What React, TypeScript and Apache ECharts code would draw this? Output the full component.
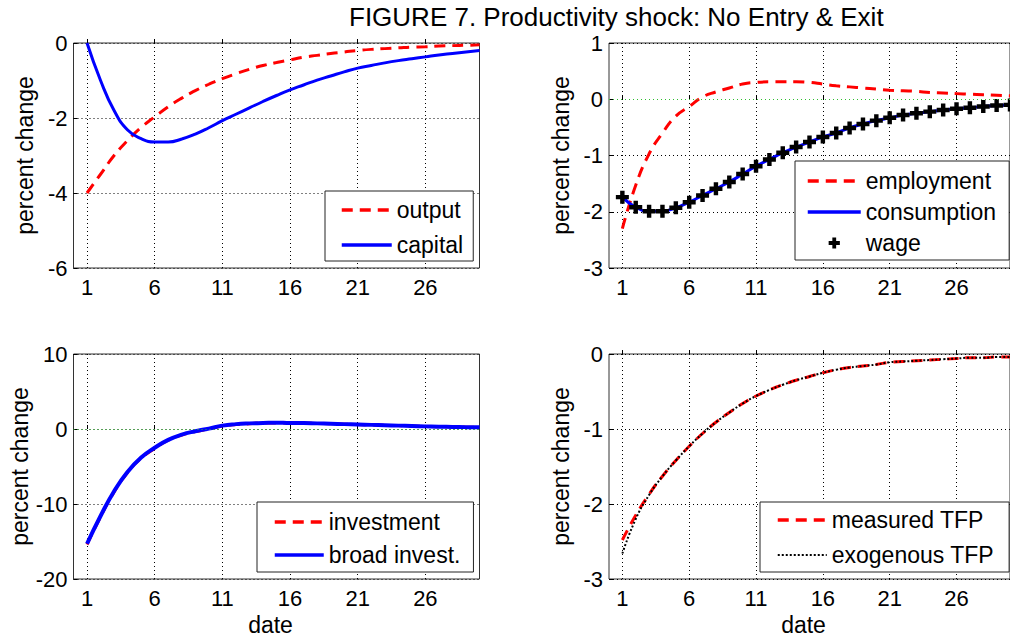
import React, { useEffect, useRef } from "react";
import * as echarts from "echarts";

const FONT = '"Liberation Sans", Arial, Helvetica, sans-serif';

const dates = [1, 2, 3, 4, 5, 6, 7, 8, 9, 10, 11, 12, 13, 14, 15, 16, 17, 18, 19, 20, 21, 22, 23, 24, 25, 26, 27, 28, 29, 30];
const xCategories = ["0", ...dates.map(String)];
const xTickLabels = ["1", "6", "11", "16", "21", "26"];

const title = "FIGURE 7. Productivity shock: No Entry & Exit";
const yName = "percent change";
const xName = "date";

// panel 1
const output = [-4.0, -3.5, -3.0, -2.6, -2.25, -1.97, -1.7, -1.47, -1.27, -1.1, -0.95, -0.82, -0.7, -0.6, -0.52, -0.45, -0.38, -0.33, -0.28, -0.24, -0.2, -0.17, -0.15, -0.13, -0.11, -0.1, -0.08, -0.07, -0.06, -0.05];
const capital = [0, -1.0, -1.8, -2.32, -2.55, -2.64, -2.64, -2.56, -2.43, -2.26, -2.07, -1.9, -1.73, -1.56, -1.4, -1.25, -1.12, -0.99, -0.88, -0.77, -0.67, -0.6, -0.53, -0.47, -0.42, -0.37, -0.32, -0.28, -0.24, -0.2];
const yTicks1 = [-6, -4, -2, 0];

// panel 2
const employment = [-2.3, -1.53, -0.97, -0.6, -0.3, -0.13, 0.04, 0.13, 0.2, 0.27, 0.3, 0.31, 0.31, 0.31, 0.3, 0.27, 0.24, 0.22, 0.2, 0.18, 0.16, 0.15, 0.14, 0.12, 0.11, 0.1, 0.09, 0.08, 0.07, 0.06];
const consumption = [-1.74, -1.92, -1.99, -1.99, -1.93, -1.83, -1.71, -1.59, -1.47, -1.33, -1.19, -1.07, -0.95, -0.85, -0.76, -0.67, -0.6, -0.51, -0.44, -0.38, -0.33, -0.28, -0.25, -0.22, -0.19, -0.17, -0.15, -0.13, -0.11, -0.1];
const wage = [-1.74, -1.92, -1.99, -1.99, -1.93, -1.83, -1.71, -1.59, -1.47, -1.33, -1.19, -1.07, -0.95, -0.85, -0.76, -0.67, -0.6, -0.51, -0.44, -0.38, -0.33, -0.28, -0.25, -0.22, -0.19, -0.17, -0.15, -0.13, -0.11, -0.1];
const yTicks2 = [-3, -2, -1, 0, 1];

// panel 3
const investment = [-15.4, -11.7, -8.4, -5.8, -3.9, -2.6, -1.5, -0.8, -0.35, 0.0, 0.4, 0.6, 0.7, 0.8, 0.8, 0.8, 0.8, 0.75, 0.7, 0.65, 0.6, 0.55, 0.5, 0.45, 0.4, 0.35, 0.3, 0.3, 0.25, 0.2];
const broadInvest = [-15.3, -11.6, -8.3, -5.7, -3.8, -2.5, -1.45, -0.75, -0.3, 0.05, 0.45, 0.65, 0.75, 0.8, 0.85, 0.8, 0.8, 0.75, 0.7, 0.65, 0.6, 0.55, 0.5, 0.45, 0.4, 0.35, 0.3, 0.28, 0.25, 0.22];
const yTicks3 = [-20, -10, 0, 10];

// panel 4
const measuredTFP = [-2.48, -2.15, -1.87, -1.63, -1.42, -1.23, -1.06, -0.91, -0.78, -0.66, -0.56, -0.48, -0.41, -0.35, -0.3, -0.25, -0.21, -0.18, -0.16, -0.14, -0.11, -0.1, -0.09, -0.08, -0.07, -0.06, -0.05, -0.05, -0.04, -0.04];
const exogenousTFP = [-2.66, -2.2, -1.88, -1.63, -1.42, -1.23, -1.06, -0.91, -0.78, -0.66, -0.56, -0.48, -0.41, -0.35, -0.3, -0.25, -0.21, -0.18, -0.16, -0.14, -0.11, -0.1, -0.09, -0.08, -0.07, -0.06, -0.05, -0.05, -0.04, -0.04];
const yTicks4 = [-3, -2, -1, 0];

const RED = "#ff0000";
const BLUE = "#0000ff";
const DASH = [11, 7];
const DOT = [1, 3];
const PLUS = "path://M3.3,0H6.7V3.3H10V6.7H6.7V10H3.3V6.7H0V3.3H3.3Z";

const pts = (vals: number[]) => dates.map((d, i) => [d, vals[i]]);
const isTick = (idx: number) => xTickLabels.includes(xCategories[idx]);

function makeX(gridIndex: number, withName: boolean) {
  return {
    type: "category",
    gridIndex,
    data: xCategories,
    boundaryGap: false,
    axisLine: { show: false },
    axisTick: { show: true, inside: true, length: 4, interval: (i: number) => isTick(i), lineStyle: { color: "#000" } },
    axisLabel: { interval: (i: number) => isTick(i), fontSize: 22, color: "#000", fontFamily: FONT, margin: 8 },
    splitLine: { show: true, interval: (i: number) => isTick(i), lineStyle: { color: "#000", type: DOT, width: 1 } },
    name: withName ? xName : "",
    nameLocation: "middle",
    nameGap: 34,
    nameTextStyle: { fontSize: 23, color: "#000", fontFamily: FONT, padding: [0, 12, 0, 0] },
  };
}

function makeY(gridIndex: number, ticks: number[]) {
  return {
    type: "value",
    gridIndex,
    min: ticks[0],
    max: ticks[ticks.length - 1],
    interval: ticks[1] - ticks[0],
    axisLine: { show: false },
    axisTick: { show: true, inside: true, length: 4, lineStyle: { color: "#000" } },
    axisLabel: { fontSize: 22, color: "#000", fontFamily: FONT, margin: 6 },
    splitLine: { show: true, lineStyle: { color: "#000", type: DOT, width: 1 } },
    name: yName,
    nameLocation: "middle",
    nameGap: 37,
    nameTextStyle: { fontSize: 23, color: "#000", fontFamily: FONT },
  };
}

type LegendItem = { name: string; symbol?: boolean; lineWidth?: number };

function makeLegend(items: LegendItem[], left: number, top: number, padding: number[], itemGap: number, itemWidth: number) {
  return {
    data: items.map((it) => ({
      name: it.name,
      itemStyle: { opacity: it.symbol ? 1 : 0 },
      lineStyle: it.symbol ? { width: 0, opacity: 0 } : { width: it.lineWidth ?? 3.5 },
    })),
    orient: "vertical",
    left,
    top,
    padding,
    itemGap,
    itemWidth,
    itemHeight: 14,
    selectedMode: false,
    backgroundColor: "#fff",
    borderColor: "#222",
    borderWidth: 1,
    itemStyle: { opacity: 0 },
    textStyle: { fontSize: 23, color: "#000", fontFamily: FONT, lineHeight: 26 },
  };
}

const zeroLine = {
  silent: true,
  symbol: "none",
  label: { show: false },
  lineStyle: { color: "#2fbf2f", type: DOT, width: 1 },
  data: [{ yAxis: 0 }],
};

export default function App() {
  const ref = useRef<HTMLDivElement>(null);
  useEffect(() => {
    if (!ref.current) return;
    const chart = echarts.init(ref.current, undefined, { renderer: "svg" });
    const gridBase = { show: true, borderColor: "#333", borderWidth: 1, backgroundColor: "#fff", width: 406, height: 225 };
    const option = {
      animation: false,
      backgroundColor: "#fff",
      textStyle: { fontFamily: FONT },
      title: {
        text: title,
        left: 349,
        top: 3,
        padding: 0,
        textStyle: { fontSize: 26, lineHeight: 28, fontWeight: "normal", color: "#000", fontFamily: FONT },
      },
      grid: [
        { ...gridBase, left: 73.5, top: 43 },
        { ...gridBase, left: 609, top: 43 },
        { ...gridBase, left: 73.5, top: 354 },
        { ...gridBase, left: 609, top: 354 },
      ],
      xAxis: [makeX(0, false), makeX(1, false), makeX(2, true), makeX(3, true)],
      yAxis: [makeY(0, yTicks1), makeY(1, yTicks2), makeY(2, yTicks3), makeY(3, yTicks4)],
      legend: [
        makeLegend([{ name: "output" }, { name: "capital" }], 325, 191, [6, 10, 3, 15], 9, 50),
        makeLegend([{ name: "employment" }, { name: "consumption" }, { name: "wage", symbol: true }], 795, 161, [7, 13, 4, 11], 5, 53),
        makeLegend([{ name: "investment" }, { name: "broad invest." }], 257, 502, [7, 13, 4, 16], 7, 49),
        makeLegend([{ name: "measured TFP" }, { name: "exogenous TFP", lineWidth: 2 }], 760, 502, [5, 15, 4, 16], 9, 49),
      ],
      series: [
        { name: "output", type: "line", xAxisIndex: 0, yAxisIndex: 0, data: pts(output), smooth: true, symbol: "none", lineStyle: { color: RED, width: 3, type: DASH }, itemStyle: { color: RED } },
        { name: "capital", type: "line", xAxisIndex: 0, yAxisIndex: 0, data: pts(capital), smooth: true, symbol: "none", lineStyle: { color: BLUE, width: 3 }, itemStyle: { color: BLUE } },

        { name: "employment", type: "line", xAxisIndex: 1, yAxisIndex: 1, data: pts(employment), smooth: true, symbol: "none", lineStyle: { color: RED, width: 3, type: DASH }, itemStyle: { color: RED }, markLine: zeroLine },
        { name: "consumption", type: "line", xAxisIndex: 1, yAxisIndex: 1, data: pts(consumption), smooth: true, symbol: "none", lineStyle: { color: BLUE, width: 3 }, itemStyle: { color: BLUE } },
        { name: "wage", type: "line", xAxisIndex: 1, yAxisIndex: 1, data: pts(wage), symbol: PLUS, symbolSize: 13, showSymbol: true, showAllSymbol: true, lineStyle: { width: 0, opacity: 0 }, itemStyle: { color: "#000" } },

        { name: "investment", type: "line", xAxisIndex: 2, yAxisIndex: 2, data: pts(investment), smooth: true, symbol: "none", lineStyle: { color: RED, width: 3, type: DASH }, itemStyle: { color: RED }, markLine: zeroLine },
        { name: "broad invest.", type: "line", xAxisIndex: 2, yAxisIndex: 2, data: pts(broadInvest), smooth: true, symbol: "none", lineStyle: { color: BLUE, width: 4 }, itemStyle: { color: BLUE } },

        { name: "measured TFP", type: "line", xAxisIndex: 3, yAxisIndex: 3, data: pts(measuredTFP), smooth: true, symbol: "none", lineStyle: { color: RED, width: 3, type: DASH }, itemStyle: { color: RED } },
        { name: "exogenous TFP", type: "line", xAxisIndex: 3, yAxisIndex: 3, data: pts(exogenousTFP), smooth: true, symbol: "none", lineStyle: { color: "#000", width: 2, type: [2, 2] }, itemStyle: { color: "#000" } },
      ],
    };
    chart.setOption(option as any);
    return () => chart.dispose();
  }, []);
  return <div ref={ref} style={{ position: "fixed", left: 0, top: 0, width: 1010, height: 638, background: "#fff" }} />;
}
